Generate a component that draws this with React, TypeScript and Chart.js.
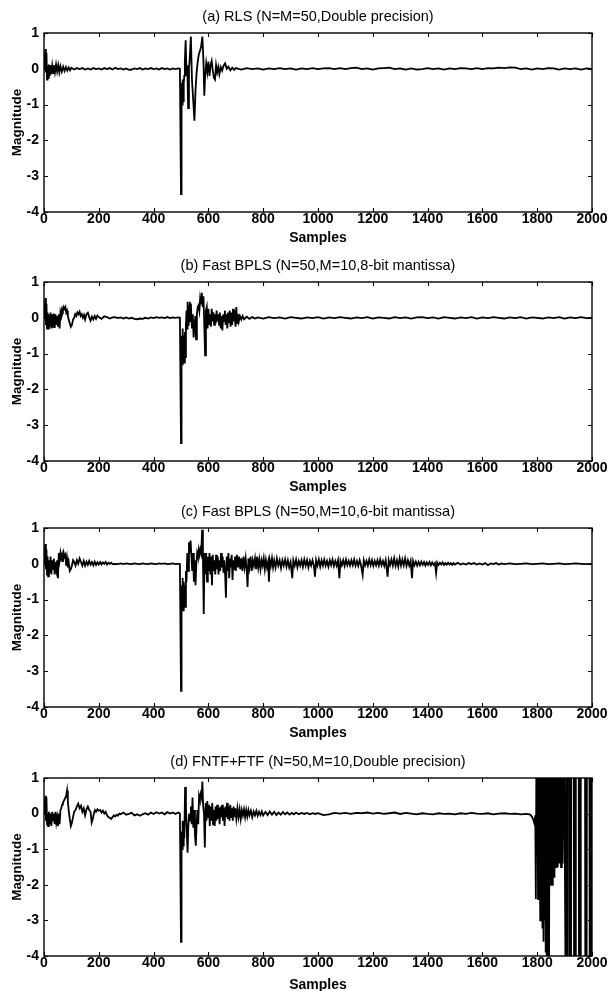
import React, { useEffect, useRef } from "react";
import { Chart, registerables } from "chart.js";
Chart.register(...registerables);

const FONT = "'Liberation Sans', Arial, Helvetica, sans-serif";

const xTickStep = 200;
const xRange = [0, 2000];
const yRange = [-4, 1];
const yTickStep = 1;
const xAxisTitle = "Samples";
const yAxisTitle = "Magnitude";

const titleA = "(a) RLS (N=M=50,Double precision)";
const titleB = "(b) Fast BPLS (N=50,M=10,8-bit mantissa)";
const titleC = "(c) Fast BPLS (N=50,M=10,6-bit mantissa)";
const titleD = "(d) FNTF+FTF (N=50,M=10,Double precision)";

// [sample, magnitude]
const seriesA: [number, number][] = [
  [0, 0], [3, 0.3], [5, 0.55], [7, -0.1], [9, 0.45], [11, -0.3], [13, 0.1], [15, -0.25], [18, 0.12], [21, -0.2],
  [24, 0.1], [27, -0.15], [30, 0.08], [33, -0.12], [36, 0.1], [40, -0.1], [44, 0.12], [48, -0.08], [52, 0.1], [56, -0.1],
  [60, 0.07], [65, -0.08], [70, 0.06], [75, -0.06], [80, 0.05], [85, -0.05], [90, 0.04], [95, -0.04], [100, 0.03],
  [110, -0.02], [120, 0.02], [130, -0.01], [140, 0.02], [150, -0.02], [160, 0.01], [170, -0.02], [180, 0.02], [190, -0.01],
  [200, 0.01], [210, -0.02], [220, 0.02], [230, -0.01], [240, 0.02], [250, -0.02], [260, 0.03], [270, -0.01], [280, 0.01],
  [290, -0.02], [300, 0.01], [310, -0.03], [320, -0.02], [330, 0.01], [340, -0.01], [350, 0.02], [360, -0.02], [370, 0.01],
  [380, -0.01], [390, 0.02], [400, -0.01], [410, 0.01], [420, -0.02], [430, 0.02], [440, -0.01], [450, 0.01], [460, -0.02],
  [470, 0.01], [480, -0.01], [490, 0.01], [496, 0],
  [500, -3.5], [502, -0.4], [504, -1.0], [506, -0.3], [508, -0.9], [510, -0.4], [512, -0.2], [514, 0.2], [517, 0.8],
  [520, -0.2], [523, 0.1], [526, -1.1], [529, 0.0], [532, 0.3], [536, 0.9], [540, -0.3], [544, -0.8], [549, -1.45],
  [553, -0.6], [557, -0.1], [561, 0.2], [565, 0.4], [569, 0.5], [573, 0.6], [578, 0.9], [582, 0.2], [585, -0.75],
  [588, -0.2], [592, 0.15], [596, -0.1], [600, 0.2], [604, -0.2], [608, 0.1], [612, 0.22], [616, -0.05], [620, -0.25],
  [624, -0.3], [628, 0.1], [632, -0.1], [636, 0.05], [640, -0.15], [645, 0.05], [650, -0.05], [655, 0.08], [661, 0.15],
  [667, 0.0], [673, 0.06], [680, -0.04], [687, 0.03], [694, -0.03], [700, 0.02],
  [720, -0.02], [740, 0.02], [760, -0.01], [780, 0.01], [800, -0.02], [820, 0.01], [840, -0.01], [860, 0.02], [880, -0.01],
  [900, 0.01], [920, -0.02], [940, 0.01], [960, -0.01], [980, 0.02], [1000, -0.01], [1020, 0.01], [1040, 0.02], [1060, -0.01],
  [1080, 0.02], [1100, -0.01], [1120, 0.02], [1140, 0.03], [1160, -0.01], [1180, 0.01], [1200, -0.02], [1220, 0.01],
  [1240, 0.02], [1260, 0.03], [1280, -0.01], [1300, 0.01], [1320, -0.02], [1340, 0.01], [1360, -0.02], [1380, -0.01],
  [1400, 0.02], [1420, -0.01], [1440, 0.01], [1460, -0.02], [1480, 0.01], [1500, -0.01], [1520, 0.02], [1540, 0.01],
  [1560, -0.01], [1580, 0.02], [1600, -0.01], [1620, 0.02], [1640, 0.01], [1660, 0.03], [1680, 0.02], [1700, 0.04],
  [1720, 0.03], [1740, -0.01], [1760, 0.01], [1780, -0.02], [1800, 0.01], [1820, -0.01], [1840, 0.02], [1860, 0.01],
  [1880, -0.02], [1900, 0.01], [1920, -0.01], [1940, 0.01], [1960, -0.02], [1980, 0.01], [2000, 0],
];

const seriesB: [number, number][] = [
  [0, 0], [3, 0.3], [5, 0.55], [7, -0.2], [9, 0.4], [11, -0.3], [13, 0.15], [15, -0.3], [18, 0.1], [21, -0.25],
  [24, 0.15], [27, -0.3], [30, 0.1], [33, -0.25], [36, 0.12], [39, -0.28], [42, 0.1], [45, -0.2], [48, 0.05], [51, -0.25],
  [54, 0.1], [57, -0.3], [60, 0.15], [63, 0.05], [66, 0.25], [69, 0.2], [72, 0.3], [75, 0.25], [78, 0.3], [81, 0.15],
  [84, 0.2], [87, 0.05], [90, -0.05], [94, -0.15], [98, -0.25], [102, -0.2], [106, -0.05], [110, 0.0], [114, 0.1],
  [118, 0.05], [122, 0.15], [126, 0.1], [130, 0.17], [134, 0.05], [138, 0.1], [142, 0.0], [146, 0.08], [150, -0.05],
  [155, 0.1], [160, 0.14], [165, 0.02], [170, -0.08], [175, 0.03], [180, -0.05], [185, 0.05], [190, -0.03], [195, 0.06],
  [200, 0.02], [210, -0.03], [220, 0.04], [230, 0.02], [240, -0.02], [250, 0.01], [260, 0.02], [270, -0.01], [280, 0.01],
  [290, -0.02], [300, 0.01], [310, -0.02], [320, 0.0], [330, -0.03], [340, -0.04], [350, -0.02], [360, -0.03], [370, 0.0],
  [380, -0.02], [390, 0.01], [400, -0.01], [410, 0.02], [420, 0.0], [430, 0.01], [440, -0.01], [450, 0.02], [460, -0.01],
  [470, 0.01], [480, 0.0], [490, 0.01], [496, 0.0],
  [500, -3.5], [502, -0.5], [504, -1.3], [506, -0.3], [508, -1.2], [510, -0.5], [512, -1.25], [514, -0.4], [516, -1.1],
  [518, -0.2], [520, 0.2], [522, -0.3], [524, 0.45], [526, -0.2], [528, 0.35], [530, -0.1], [532, 0.45], [534, -0.1],
  [536, 0.4], [538, 0.0], [540, -0.3], [543, 0.1], [546, -0.55], [549, -0.3], [552, 0.05], [555, -0.6], [558, 0.1],
  [561, 0.3], [564, 0.35], [567, 0.2], [570, 0.55], [573, 0.4], [576, 0.7], [579, 0.3], [582, 0.6], [585, -0.2],
  [588, -1.05], [591, 0.2], [594, 0.3], [597, -0.3], [600, 0.25], [603, -0.2], [606, 0.1], [609, -0.25], [612, 0.25],
  [615, -0.1], [618, 0.15], [621, -0.2], [624, 0.1], [627, -0.15], [630, 0.2], [633, -0.1], [636, 0.1], [639, -0.2],
  [642, 0.15], [645, -0.3], [648, 0.05], [651, -0.35], [654, 0.1], [657, -0.1], [660, 0.2], [663, -0.2], [666, 0.1],
  [669, -0.3], [672, 0.15], [675, -0.15], [678, 0.2], [681, -0.25], [684, 0.15], [687, -0.2], [690, 0.25], [693, -0.1],
  [696, 0.2], [699, -0.25], [702, 0.3], [705, -0.15], [708, 0.1], [711, -0.1], [715, 0.05], [720, -0.05], [725, 0.05],
  [730, -0.04], [740, 0.03], [750, -0.03], [760, 0.02], [770, -0.02],
  [780, 0.01], [800, -0.02], [820, 0.02], [840, -0.01], [860, 0.01], [880, -0.02], [900, 0.02], [920, 0.0], [940, -0.02],
  [960, 0.01], [980, -0.01], [1000, 0.02], [1020, -0.02], [1040, 0.01], [1060, -0.01], [1080, 0.02], [1100, 0.0],
  [1120, -0.02], [1140, 0.01], [1160, -0.01], [1180, 0.02], [1200, -0.02], [1220, 0.01], [1240, 0.0], [1260, -0.02],
  [1280, 0.02], [1300, -0.01], [1320, 0.01], [1340, -0.02], [1360, 0.01], [1380, 0.02], [1400, -0.01], [1420, 0.01],
  [1440, -0.02], [1460, 0.02], [1480, 0.0], [1500, -0.02], [1520, 0.01], [1540, -0.01], [1560, 0.02], [1580, -0.02],
  [1600, 0.01], [1620, -0.01], [1640, 0.02], [1660, 0.0], [1680, -0.02], [1700, 0.01], [1720, -0.01], [1740, 0.02],
  [1760, -0.02], [1780, 0.01], [1800, 0.0], [1820, -0.02], [1840, 0.01], [1860, -0.01], [1880, 0.02], [1900, -0.02],
  [1920, 0.01], [1940, -0.01], [1960, 0.02], [1980, -0.01], [2000, 0.0],
];

const seriesC: [number, number][] = [
  [0, 0], [3, 0.3], [5, 0.55], [7, -0.15], [9, 0.4], [11, -0.3], [13, 0.2], [15, -0.35], [18, 0.1], [21, -0.25],
  [24, 0.2], [27, -0.3], [30, 0.1], [33, -0.15], [36, 0.15], [39, -0.3], [42, 0.05], [45, -0.15], [48, 0.1], [51, -0.4],
  [54, 0.3], [57, 0.1], [60, 0.3], [63, 0.15], [66, 0.25], [69, 0.05], [72, 0.3], [75, 0.2], [78, 0.25], [81, -0.05],
  [84, 0.15], [87, -0.1], [90, 0.05], [94, -0.2], [98, -0.15], [102, -0.05], [106, 0.1], [110, 0.05], [115, -0.05],
  [120, 0.1], [125, 0.0], [130, 0.15], [135, 0.05], [140, -0.05], [145, 0.08], [150, -0.05], [155, 0.06], [160, -0.03],
  [165, 0.08], [170, -0.02], [175, 0.05], [180, -0.04], [185, 0.06], [190, -0.03], [195, 0.04], [200, -0.02], [205, 0.05],
  [210, -0.02], [215, 0.04], [220, 0.0], [225, 0.05], [230, -0.02], [235, 0.03], [240, 0.0], [245, 0.03], [250, -0.01],
  [260, 0.0], [270, -0.01], [280, 0.01], [290, -0.01], [300, 0.01], [310, 0.0], [320, -0.01], [330, 0.01], [340, 0.0],
  [350, -0.01], [360, 0.01], [370, 0.0], [380, -0.01], [390, 0.01], [400, 0.0], [410, -0.01], [420, 0.01], [430, 0.0],
  [440, 0.01], [450, -0.01], [460, 0.0], [470, 0.01], [480, -0.01], [490, 0.0], [496, 0.0],
  [500, -3.55], [502, -0.6], [504, -1.3], [506, -0.4], [508, -1.3], [510, -0.5], [512, -1.2], [514, -0.6], [516, -1.2],
  [518, -0.2], [520, -0.5], [523, 0.3], [526, -0.2], [529, 0.6], [532, 0.45], [535, 0.65], [538, 0.2], [541, -0.2],
  [544, 0.3], [547, -0.5], [550, 0.1], [553, -0.6], [556, 0.0], [559, 0.3], [562, 0.2], [565, 0.4], [568, 0.25],
  [571, 0.4], [574, 0.3], [577, 0.95], [580, 0.2], [583, -1.4], [586, 0.3], [589, -0.3], [592, 0.3], [595, -0.5],
  [598, 0.2], [601, -0.2], [604, 0.3], [607, -0.3], [610, 0.2], [613, -0.6], [616, 0.25], [619, -0.2], [622, 0.1],
  [625, -0.3], [628, 0.25], [631, -0.15], [634, 0.2], [637, -0.3], [640, 0.1], [643, -0.2], [646, 0.3], [649, -0.1],
  [652, 0.2], [655, -0.25], [658, 0.1], [661, -0.3], [664, -0.95], [667, 0.2], [670, -0.2], [673, 0.3], [676, -0.4],
  [679, 0.15], [682, -0.1], [685, 0.25], [688, -0.45], [691, 0.1], [694, -0.15], [697, 0.2], [700, -0.2], [704, 0.25],
  [708, -0.1], [712, 0.2], [716, -0.15], [720, 0.15], [724, -0.2], [728, 0.2], [732, -0.1], [736, 0.15], [740, -0.2],
  [743, -0.65], [746, 0.15], [750, -0.1], [754, 0.2], [758, -0.2], [762, 0.1], [766, -0.05], [770, 0.15], [774, -0.15],
  [778, 0.2], [782, -0.1], [786, 0.12], [790, -0.15], [794, 0.1], [798, -0.05], [802, 0.15], [806, -0.15], [810, 0.1],
  [814, -0.1], [818, 0.05], [821, -0.5], [824, 0.1], [828, -0.05], [832, 0.15], [836, -0.1], [840, 0.1], [845, -0.1],
  [850, 0.15], [855, -0.05], [860, 0.1], [865, -0.12], [870, 0.1], [875, -0.05], [880, 0.12], [885, -0.08], [890, 0.1],
  [895, -0.1], [900, 0.05], [906, -0.4], [910, 0.1], [915, -0.05], [920, 0.12], [925, -0.1], [930, 0.08], [935, -0.05],
  [940, 0.1], [945, -0.08], [950, 0.12], [955, -0.05], [960, 0.1], [965, -0.1], [970, 0.08], [975, -0.05], [980, 0.1],
  [985, -0.05], [989, -0.36], [993, 0.1], [998, -0.05], [1003, 0.12], [1008, -0.08], [1013, 0.1], [1018, -0.05],
  [1023, 0.12], [1028, -0.05], [1033, 0.08], [1038, -0.08], [1043, 0.1], [1048, -0.04], [1053, 0.12], [1058, -0.06],
  [1063, 0.08], [1068, -0.05], [1073, 0.1], [1078, -0.4], [1082, 0.08], [1087, -0.04], [1092, 0.1], [1097, -0.06],
  [1102, 0.12], [1107, -0.04], [1112, 0.08], [1117, -0.05], [1122, 0.1], [1127, -0.04], [1132, 0.12], [1137, -0.05],
  [1142, 0.08], [1147, -0.06], [1152, 0.1], [1157, -0.04], [1163, -0.31], [1167, 0.1], [1172, -0.04], [1177, 0.08],
  [1182, -0.05], [1187, 0.12], [1192, -0.04], [1197, 0.1], [1202, -0.06], [1207, 0.08], [1212, -0.04], [1217, 0.1],
  [1222, -0.05], [1227, 0.12], [1232, -0.04], [1237, 0.08], [1242, -0.06], [1247, 0.1], [1254, -0.36], [1258, 0.1],
  [1263, -0.04], [1268, 0.12], [1273, -0.05], [1278, 0.15], [1283, -0.06], [1288, 0.1], [1293, -0.08], [1298, 0.15],
  [1303, -0.05], [1308, 0.12], [1313, -0.04], [1318, 0.15], [1323, -0.06], [1328, 0.1], [1333, -0.05], [1338, 0.08],
  [1343, -0.4], [1347, 0.08], [1352, -0.04], [1357, 0.06], [1362, -0.05], [1367, 0.05], [1372, -0.04], [1377, 0.06],
  [1382, -0.03], [1387, 0.05], [1392, -0.05], [1397, 0.04], [1402, -0.03], [1407, 0.05], [1412, -0.04], [1417, 0.04],
  [1422, -0.03], [1427, 0.02], [1431, -0.26], [1435, 0.04], [1440, -0.03], [1445, 0.03], [1450, -0.02], [1455, 0.04],
  [1460, -0.03], [1465, 0.02], [1470, -0.02], [1475, 0.03], [1480, -0.02], [1485, 0.02], [1490, -0.03], [1495, 0.02],
  [1500, -0.02], [1510, 0.03], [1520, -0.02], [1530, 0.01], [1540, -0.02], [1550, 0.02], [1560, -0.01], [1570, 0.02],
  [1580, -0.02], [1590, 0.01], [1600, -0.02], [1610, 0.02], [1620, -0.04], [1630, 0.01], [1640, -0.01], [1650, 0.02],
  [1660, -0.02], [1670, 0.01], [1680, -0.01], [1700, 0.01], [1720, -0.01], [1740, 0.0], [1760, 0.01], [1780, -0.01],
  [1800, 0.0], [1820, 0.01], [1840, -0.01], [1860, 0.0], [1880, 0.01], [1900, -0.01], [1920, 0.0], [1940, 0.01],
  [1960, 0.0], [1980, -0.01], [2000, 0.0],
];

const seriesD: [number, number][] = [
  [0, 0], [3, 0.25], [5, 0.5], [7, -0.2], [9, 0.45], [11, -0.3], [13, 0.0], [15, -0.35], [18, 0.05], [21, -0.3],
  [24, 0.0], [27, -0.35], [30, 0.05], [33, -0.2], [36, 0.0], [39, -0.3], [42, 0.05], [45, -0.25], [48, -0.1], [51, -0.35],
  [54, 0.0], [57, -0.3], [60, 0.1], [63, 0.15], [66, 0.25], [69, 0.3], [72, 0.35], [75, 0.4], [78, 0.45], [81, 0.5],
  [84, 0.65], [87, 0.35], [90, 0.1], [94, -0.15], [98, -0.35], [102, -0.25], [106, -0.1], [110, 0.05], [115, 0.1],
  [120, 0.2], [125, 0.28], [130, 0.15], [135, 0.22], [140, 0.05], [145, 0.15], [150, -0.05], [155, 0.12], [160, 0.2],
  [165, 0.1], [170, 0.05], [174, -0.25], [178, -0.15], [182, 0.0], [186, 0.1], [190, 0.05], [195, 0.12], [200, 0.08],
  [205, 0.1], [210, 0.03], [215, 0.08], [220, 0.0], [225, 0.05], [230, -0.05], [235, -0.1], [240, -0.12], [245, -0.15],
  [250, -0.1], [255, -0.05], [260, -0.08], [265, -0.03], [270, -0.06], [275, 0.0], [280, -0.02], [290, 0.03], [300, -0.03],
  [310, -0.01], [320, 0.02], [330, -0.05], [340, -0.02], [350, -0.06], [360, -0.02], [370, 0.01], [380, -0.03], [390, 0.03],
  [400, -0.01], [410, 0.04], [420, 0.0], [430, 0.03], [440, -0.02], [450, 0.04], [460, 0.0], [470, 0.03], [480, -0.01],
  [490, 0.03], [496, 0.0],
  [500, -3.6], [502, -0.5], [504, -1.0], [506, -0.2], [508, -0.9], [510, -0.3], [512, -0.7], [515, 0.75], [518, 0.2],
  [521, -0.5], [524, -1.1], [527, -0.3], [530, 0.0], [533, -0.2], [536, 0.2], [539, -0.3], [542, 0.45], [545, -0.4],
  [548, 0.1], [551, -0.6], [554, -0.9], [557, -0.3], [560, 0.1], [563, -0.3], [566, 0.5], [569, 0.4], [572, 0.55],
  [575, 0.45], [578, 0.9], [581, 0.2], [584, 0.0], [587, -0.95], [590, 0.3], [593, -0.2], [596, 0.35], [599, -0.1],
  [602, 0.25], [605, -0.35], [608, 0.2], [611, -0.2], [614, 0.3], [617, -0.3], [620, 0.1], [623, -0.35], [626, 0.2],
  [629, -0.2], [632, 0.25], [635, -0.15], [638, 0.15], [641, -0.3], [644, 0.2], [647, -0.1], [650, 0.25], [653, -0.2],
  [656, 0.15], [659, -0.35], [662, 0.2], [665, -0.1], [668, 0.3], [671, -0.15], [674, 0.2], [677, -0.2], [680, 0.25],
  [683, -0.1], [686, 0.15], [689, -0.2], [692, 0.2], [695, -0.1], [698, 0.15], [702, -0.15], [706, 0.15], [710, -0.1],
  [714, 0.12], [718, -0.15], [722, 0.1], [726, -0.05], [730, 0.12], [734, -0.1], [738, 0.1], [742, -0.08], [746, 0.1],
  [750, -0.05], [755, 0.08], [760, -0.1], [765, 0.06], [770, -0.05], [775, 0.08], [780, -0.06], [785, 0.05], [790, -0.04],
  [795, 0.06], [800, -0.05], [808, 0.05], [816, -0.04], [824, 0.06], [832, -0.03], [840, 0.05], [848, -0.04], [856, 0.03],
  [864, -0.03], [872, 0.04], [880, -0.02], [888, 0.03], [896, -0.03], [904, 0.02], [912, -0.02], [920, 0.03], [930, -0.02],
  [940, 0.02], [950, -0.01], [960, 0.02], [970, -0.02], [980, 0.01], [990, -0.01],
  [1000, 0.01], [1020, -0.04], [1040, -0.02], [1060, 0.02], [1080, 0.0], [1100, 0.02], [1120, -0.01], [1140, 0.02],
  [1160, 0.01], [1180, 0.03], [1200, 0.0], [1220, 0.02], [1240, -0.01], [1260, 0.01], [1280, 0.03], [1300, -0.01],
  [1320, 0.02], [1340, 0.0], [1360, -0.02], [1380, 0.01], [1400, -0.01], [1420, -0.02], [1440, 0.01], [1460, -0.01],
  [1480, 0.0], [1500, -0.02], [1520, 0.01], [1540, -0.01], [1560, 0.02], [1580, 0.0], [1600, -0.01], [1620, 0.01],
  [1640, -0.02], [1660, 0.0], [1680, 0.01], [1700, -0.01], [1720, 0.0], [1740, -0.02], [1760, -0.01], [1775, -0.03],
  [1782, -0.1], [1787, -0.2], [1790, -0.28], [1793, -0.05],
  [1795, -2.4], [1797, 1.5], [1799, -1.2], [1801, 1.5], [1803, -2.4], [1805, 1.5], [1807, -2.0], [1809, 1.5],
  [1811, -3.0], [1813, 1.5], [1815, -2.6], [1817, 1.5], [1819, -3.2], [1821, 1.5], [1823, -3.6], [1825, 1.5],
  [1827, -3.0], [1829, 1.5], [1831, -3.9], [1833, 1.5], [1835, -5], [1837, 1.5], [1839, -5], [1841, 1.5], [1843, -5],
  [1845, 1.5], [1847, -2.0], [1849, 1.5], [1851, -1.8], [1853, 1.5], [1855, -2.0], [1857, 1.5], [1859, -1.6], [1861, 1.5],
  [1863, -1.8], [1866, 1.5], [1869, -1.5], [1872, 1.5], [1875, -1.5], [1878, 1.5], [1881, -1.4], [1884, 1.5],
  [1887, -1.5], [1890, 1.5], [1893, -1.4], [1896, 1.5], [1899, 1.5],
  [1905, -7], [1907, 5], [1909, -7], [1911, 5], [1917, 5], [1919, -7], [1921, 5], [1923, -7], [1925, 5],
  [1933, 5], [1935, -7], [1937, 5], [1939, -7], [1941, 5], [1951, 5], [1953, -7], [1955, 5], [1957, -7], [1959, 5],
  [1974, 5], [1976, -7], [1978, 5], [1980, -7], [1982, 5], [1990, 5], [1992, -7], [1994, 5], [1996, -7], [1998, 5],
  [2000, 5],
];

type PanelSpec = { title: string; series: [number, number][]; chartTop: number; chartBottom: number; xTitleY: number };

const panels: PanelSpec[] = [
  { title: titleA, series: seriesA, chartTop: 33, chartBottom: 212, xTitleY: 238 },
  { title: titleB, series: seriesB, chartTop: 282, chartBottom: 461, xTitleY: 487 },
  { title: titleC, series: seriesC, chartTop: 528, chartBottom: 707, xTitleY: 733 },
  { title: titleD, series: seriesD, chartTop: 778, chartBottom: 956, xTitleY: 985 },
];

const PLOT_LEFT = 44;
const PLOT_RIGHT = 592;
const WIDTH = 610;
const TOP_OFFSET = 33;

const boxPlugin = {
  id: "matlabBox",
  afterDatasetsDraw(chart: any) {
    const { ctx, chartArea } = chart;
    const { left, right, top, bottom } = chartArea;
    const xs = chart.scales.x;
    const ys = chart.scales.y;
    ctx.save();
    ctx.strokeStyle = "#000";
    ctx.lineWidth = 1.4;
    ctx.strokeRect(left, top, right - left, bottom - top);
    ctx.lineWidth = 1.1;
    const tl = 4;
    ctx.beginPath();
    xs.ticks.forEach((t: any) => {
      const px = Math.round(xs.getPixelForValue(t.value)) + 0.5;
      ctx.moveTo(px, bottom);
      ctx.lineTo(px, bottom - tl);
      ctx.moveTo(px, top);
      ctx.lineTo(px, top + tl);
    });
    ys.ticks.forEach((t: any) => {
      const py = Math.round(ys.getPixelForValue(t.value)) + 0.5;
      ctx.moveTo(left, py);
      ctx.lineTo(left + tl, py);
      ctx.moveTo(right, py);
      ctx.lineTo(right - tl, py);
    });
    ctx.stroke();
    ctx.restore();
  },
};

function Panel({ spec }: { spec: PanelSpec }) {
  const ref = useRef<HTMLCanvasElement | null>(null);
  const canvasTop = spec.chartTop - TOP_OFFSET;
  const height = spec.xTitleY + 12 - canvasTop;
  const innerBottom = spec.chartBottom - canvasTop;
  const axisHeight = height - innerBottom;

  useEffect(() => {
    if (!ref.current) return;
    const titleSize = 14.5;
    const titleLH = titleSize * 1.2;
    const titleCenter = TOP_OFFSET - 16;
    const padTop = titleCenter - titleLH / 2;
    const padBottom = TOP_OFFSET - padTop - titleLH;
    const chart = new Chart(ref.current, {
      type: "line",
      data: {
        datasets: [
          {
            data: spec.series.map(([x, y]) => ({ x, y })),
            borderColor: "#000",
            borderWidth: 1.8,
            pointRadius: 0,
            tension: 0,
            fill: false,
            clip: 0,
          } as any,
        ],
      },
      options: {
        animation: false,
        responsive: false,
        maintainAspectRatio: false,
        events: [],
        layout: { padding: { left: 0, right: WIDTH - PLOT_RIGHT, top: 0, bottom: 0 } },
        plugins: {
          legend: { display: false },
          tooltip: { enabled: false },
          title: {
            display: true,
            fullSize: false,
            text: spec.title,
            color: "#000",
            font: { family: FONT, size: titleSize, weight: "normal", lineHeight: 1.2 },
            padding: { top: padTop, bottom: padBottom },
          },
        },
        scales: {
          x: {
            type: "linear",
            min: xRange[0],
            max: xRange[1],
            grid: { display: false, drawTicks: false },
            border: { display: false },
            ticks: {
              stepSize: xTickStep,
              autoSkip: false,
              maxRotation: 0,
              minRotation: 0,
              padding: 0,
              color: "#000",
              font: { family: FONT, size: 14, weight: "bold", lineHeight: 1 },
              callback: (v: any) => String(v),
            },
            title: {
              display: true,
              text: xAxisTitle,
              color: "#000",
              font: { family: FONT, size: 14, weight: "bold", lineHeight: 1.2 },
              padding: { top: 0, bottom: 12 - 8.4 },
            },
            afterFit: (s: any) => {
              s.height = axisHeight;
              s.paddingLeft = 0;
              s.paddingRight = 0;
            },
          },
          y: {
            type: "linear",
            min: yRange[0],
            max: yRange[1],
            grid: { display: false, drawTicks: false },
            border: { display: false },
            ticks: {
              stepSize: yTickStep,
              padding: 5,
              color: "#000",
              font: { family: FONT, size: 14, weight: "bold", lineHeight: 1 },
              callback: (v: any) => String(v),
            },
            title: {
              display: true,
              text: yAxisTitle,
              color: "#000",
              font: { family: FONT, size: 13.5, weight: "bold", lineHeight: 1.2 },
              padding: { top: 17 - 8.1, bottom: 0 },
            },
            afterFit: (s: any) => {
              s.width = PLOT_LEFT;
              s.paddingTop = 0;
              s.paddingBottom = 0;
            },
          },
        },
      } as any,
      plugins: [boxPlugin],
    });
    return () => chart.destroy();
  }, []);

  return (
    <canvas
      ref={ref}
      width={WIDTH}
      height={height}
      style={{ position: "absolute", left: 0, top: canvasTop, width: WIDTH, height }}
    />
  );
}

export default function App() {
  return (
    <div
      style={{
        position: "absolute",
        left: 0,
        top: 0,
        width: WIDTH,
        height: 991,
        overflow: "hidden",
        background: "#fff",
      }}
    >
      {panels.map((p, i) => (
        <Panel key={i} spec={p} />
      ))}
    </div>
  );
}
